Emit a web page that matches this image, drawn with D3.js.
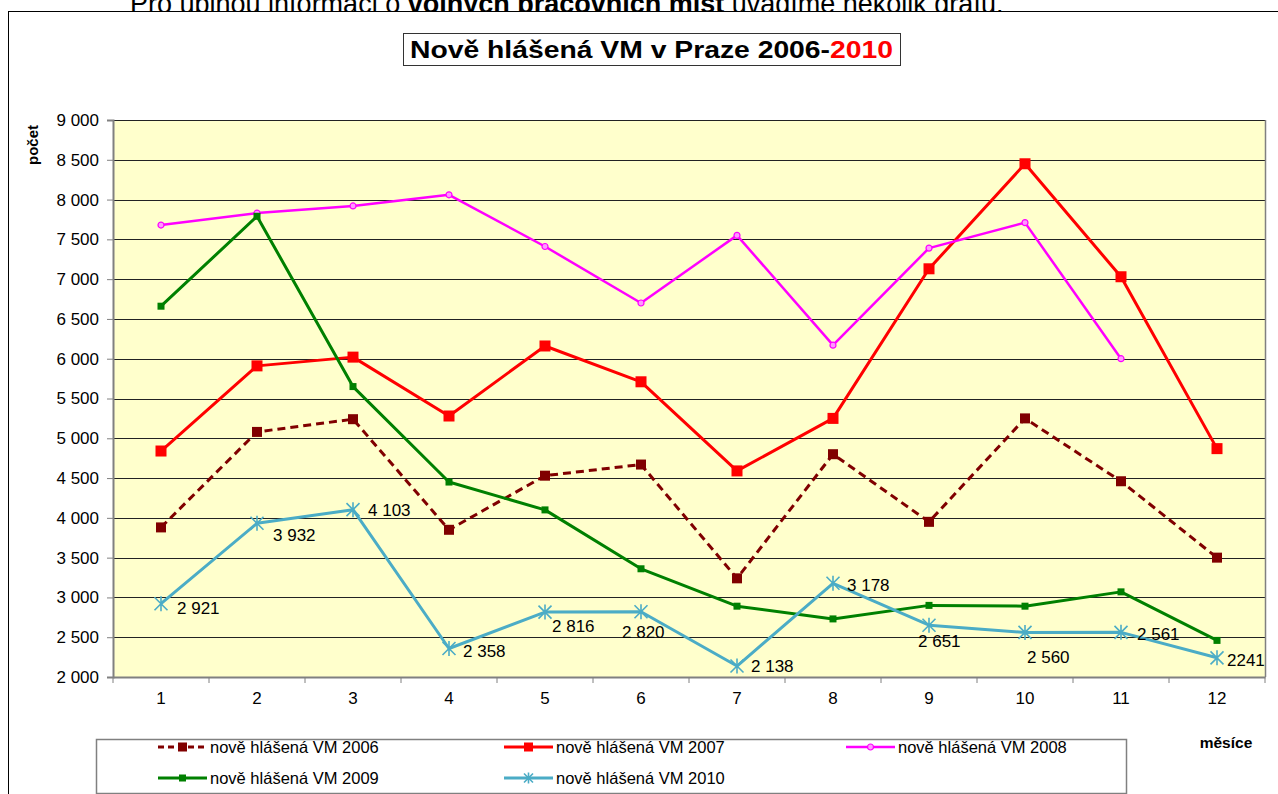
<!DOCTYPE html>
<html>
<head>
<meta charset="utf-8">
<script src="https://cdn.jsdelivr.net/npm/d3@7"></script>
<style>
  html, body { margin: 0; padding: 0; background: #fff; overflow: hidden; }
  svg { display: block; font-family: "Liberation Sans", Arial, sans-serif; }
</style>
</head>
<body>
<svg id="chart" width="1278" height="794"></svg>
<script>
// months on the x axis
const months = [1, 2, 3, 4, 5, 6, 7, 8, 9, 10, 11, 12];
const yTicks = [2000, 2500, 3000, 3500, 4000, 4500, 5000, 5500, 6000, 6500, 7000, 7500, 8000, 8500, 9000];

// values (2010 from its data labels)
const vm2006 = [3880, 5080, 5240, 3850, 4530, 4670, 3240, 4800, 3950, 5250, 4460, 3500];
const vm2007 = [4840, 5910, 6020, 5280, 6160, 5710, 4590, 5250, 7130, 8450, 7030, 4870];
const vm2008 = [7680, 7830, 7920, 8060, 7410, 6700, 7550, 6170, 7390, 7710, 6000];
const vm2009 = [6660, 7790, 5650, 4450, 4100, 3360, 2890, 2730, 2900, 2890, 3070, 2460];
const vm2010 = [2921, 3932, 4103, 2358, 2816, 2820, 2138, 3178, 2651, 2560, 2561, 2241];
const labels2010 = ["2 921", "3 932", "4 103", "2 358", "2 816", "2 820", "2 138", "3 178", "2 651", "2 560", "2 561", "2241"];

// where each 2010 label sits relative to its point (they were dragged around in the original)
const labelOffsets = [[16, 10], [16, 18], [15, 6], [14, 8], [7, 20], [-19, 26], [14, 6], [14, 8], [-11, 22], [2, 31], [16, 8], [10, 8]];

const svg = d3.select('#chart');
const plot = { left: 113, right: 1265, top: 120, bottom: 677 };

const x = d3.scaleBand().domain(months).range([plot.left, plot.right]);
const y = d3.scaleLinear().domain([2000, 9000]).range([plot.bottom, plot.top]);
const fmt = d3.formatLocale({ decimal: ',', thousands: ' ', grouping: [3], currency: ['', ''] }).format(',d');

// page text above the chart (cut off by the screenshot)
svg.append('text')
    .attr('x', 130).attr('y', 13)
    .style('font-size', '27px')
    .call(t => {
        t.append('tspan').text('Pro úplnou informaci o ');
        t.append('tspan').style('font-weight', 'bold').text('volných pracovních míst');
        t.append('tspan').text(' uvádíme několik grafů.');
    });

// chart frame
svg.append('rect')
    .attr('x', 8.5).attr('y', 11.5).attr('width', 1290).attr('height', 800)
    .attr('fill', '#fff').attr('stroke', '#000');

// title box
svg.append('rect')
    .attr('x', 403.5).attr('y', 33.5).attr('width', 497).attr('height', 32)
    .attr('fill', '#fff').attr('stroke', '#333');
svg.append('text')
    .attr('x', 410).attr('y', 58)
    .attr('textLength', 483).attr('lengthAdjust', 'spacingAndGlyphs')
    .style('font-size', '24px').style('font-weight', 'bold')
    .call(t => {
        t.append('tspan').text('Nově hlášená VM v Praze 2006-');
        t.append('tspan').attr('fill', '#ff0000').text('2010');
    });

// plot background
svg.append('rect')
    .attr('x', plot.left).attr('y', plot.top)
    .attr('width', plot.right - plot.left).attr('height', plot.bottom - plot.top)
    .attr('fill', '#ffffcc');

// gridlines
svg.append('g')
    .selectAll('line')
    .data(yTicks.filter(d => d > 2000))
    .join('line')
    .attr('x1', plot.left).attr('x2', plot.right)
    .attr('y1', d => Math.round(y(d)) + 0.5).attr('y2', d => Math.round(y(d)) + 0.5)
    .attr('stroke', '#222').attr('stroke-width', 1);

// right border of plot area
svg.append('line')
    .attr('x1', plot.right + 0.5).attr('x2', plot.right + 0.5)
    .attr('y1', plot.top).attr('y2', plot.bottom)
    .attr('stroke', '#808080').attr('stroke-width', 1.5);

// y axis
const yAxis = svg.append('g')
    .attr('transform', `translate(${plot.left},0)`)
    .call(d3.axisLeft(y).tickValues(yTicks).tickFormat(fmt).tickSize(6).tickPadding(8));
yAxis.select('.domain').attr('stroke', '#808080').attr('stroke-width', 2);
yAxis.selectAll('.tick line').attr('stroke', '#808080');
yAxis.selectAll('text').style('font-size', '17px').attr('fill', '#000')
    .style('font-family', '"Liberation Sans", Arial, sans-serif');

// x axis: labels centred on months, ticks on band boundaries
const xAxis = svg.append('g')
    .attr('transform', `translate(0,${plot.bottom})`)
    .call(d3.axisBottom(x).tickSize(0).tickPadding(15));
xAxis.select('.domain').attr('stroke', '#808080').attr('stroke-width', 2);
xAxis.selectAll('text').style('font-size', '17px').attr('fill', '#000')
    .style('font-family', '"Liberation Sans", Arial, sans-serif');
xAxis.selectAll('.bound')
    .data(months.concat([13]))
    .join('line')
    .attr('class', 'bound')
    .attr('x1', d => d === 13 ? plot.right : x(d)).attr('x2', d => d === 13 ? plot.right : x(d))
    .attr('y1', 0).attr('y2', 6)
    .attr('stroke', '#808080');

// axis titles
svg.append('text')
    .attr('transform', 'translate(38,145) rotate(-90)')
    .attr('text-anchor', 'middle')
    .style('font-size', '15px').style('font-weight', 'bold')
    .text('počet');
svg.append('text')
    .attr('x', 1226).attr('y', 748)
    .attr('text-anchor', 'middle')
    .style('font-size', '15.5px').style('font-weight', 'bold')
    .text('měsíce');

// series definitions
const series = [
    { name: 'nově hlášená VM 2006', values: vm2006, color: '#800000', width: 3, dash: '8,5', marker: 'square', size: 10 },
    { name: 'nově hlášená VM 2007', values: vm2007, color: '#ff0000', width: 3, dash: null, marker: 'square', size: 11 },
    { name: 'nově hlášená VM 2008', values: vm2008, color: '#ff00ff', width: 2.5, dash: null, marker: 'circle', size: 7 },
    { name: 'nově hlášená VM 2009', values: vm2009, color: '#008000', width: 3, dash: null, marker: 'square', size: 7 },
    { name: 'nově hlášená VM 2010', values: vm2010, color: '#4bacc6', width: 3, dash: null, marker: 'star', size: 13 }
];

const line = d3.line()
    .x((d, i) => x(months[i]) + x.bandwidth() / 2)
    .y(d => y(d));

function drawMarker(sel, s) {
    if (s.marker === 'square') {
        sel.append('rect')
            .attr('x', -s.size / 2).attr('y', -s.size / 2)
            .attr('width', s.size).attr('height', s.size)
            .attr('fill', s.color);
    } else if (s.marker === 'circle') {
        sel.append('circle')
            .attr('r', s.size / 2 - 0.5)
            .attr('fill', '#ff99ff').attr('stroke', s.color).attr('stroke-width', 1.2);
    } else {
        const h = s.size / 2;
        sel.append('path')
            .attr('d', `M${-h},${-h}L${h},${h}M${-h},${h}L${h},${-h}M0,${-h - 1}L0,${h + 1}`)
            .attr('stroke', s.color).attr('stroke-width', 1.6).attr('fill', 'none');
    }
}

const seriesG = svg.append('g');
series.forEach(s => {
    const g = seriesG.append('g');
    g.append('path')
        .datum(s.values)
        .attr('d', line)
        .attr('fill', 'none')
        .attr('stroke', s.color)
        .attr('stroke-width', s.width)
        .attr('stroke-dasharray', s.dash)
        .attr('stroke-linejoin', 'round');
    g.selectAll('.mk')
        .data(s.values)
        .join('g')
        .attr('class', 'mk')
        .attr('transform', (d, i) => `translate(${x(months[i]) + x.bandwidth() / 2},${y(d)})`)
        .each(function() { drawMarker(d3.select(this), s); });
});

// data labels for 2010
svg.append('g')
    .selectAll('text')
    .data(vm2010)
    .join('text')
    .attr('x', (d, i) => x(months[i]) + x.bandwidth() / 2 + labelOffsets[i][0])
    .attr('y', (d, i) => y(d) + labelOffsets[i][1])
    .style('font-size', '17px')
    .text((d, i) => labels2010[i]);

// legend
svg.append('rect')
    .attr('x', 96.5).attr('y', 739.5).attr('width', 1030).attr('height', 54)
    .attr('fill', '#fff').attr('stroke', '#808080').attr('stroke-width', 1.5);

const legendPos = [[158, 747], [504, 747], [846, 747], [158, 778], [504, 778]];
series.forEach((s, i) => {
    const [lx, ly] = legendPos[i];
    const g = svg.append('g').attr('transform', `translate(${lx},${ly})`);
    g.append('line')
        .attr('x1', 0).attr('x2', 49).attr('y1', 0).attr('y2', 0)
        .attr('stroke', s.color).attr('stroke-width', s.width)
        .attr('stroke-dasharray', s.dash ? '6,4' : null);
    const m = g.append('g').attr('transform', 'translate(24.5,0)');
    drawMarker(m, Object.assign({}, s, { size: s.marker === 'star' ? 9 : Math.min(s.size, 9) }));
    g.append('text')
        .attr('x', 52).attr('y', 5.5)
        .style('font-size', '16.5px')
        .text(s.name);
});
</script>
</body>
</html>
